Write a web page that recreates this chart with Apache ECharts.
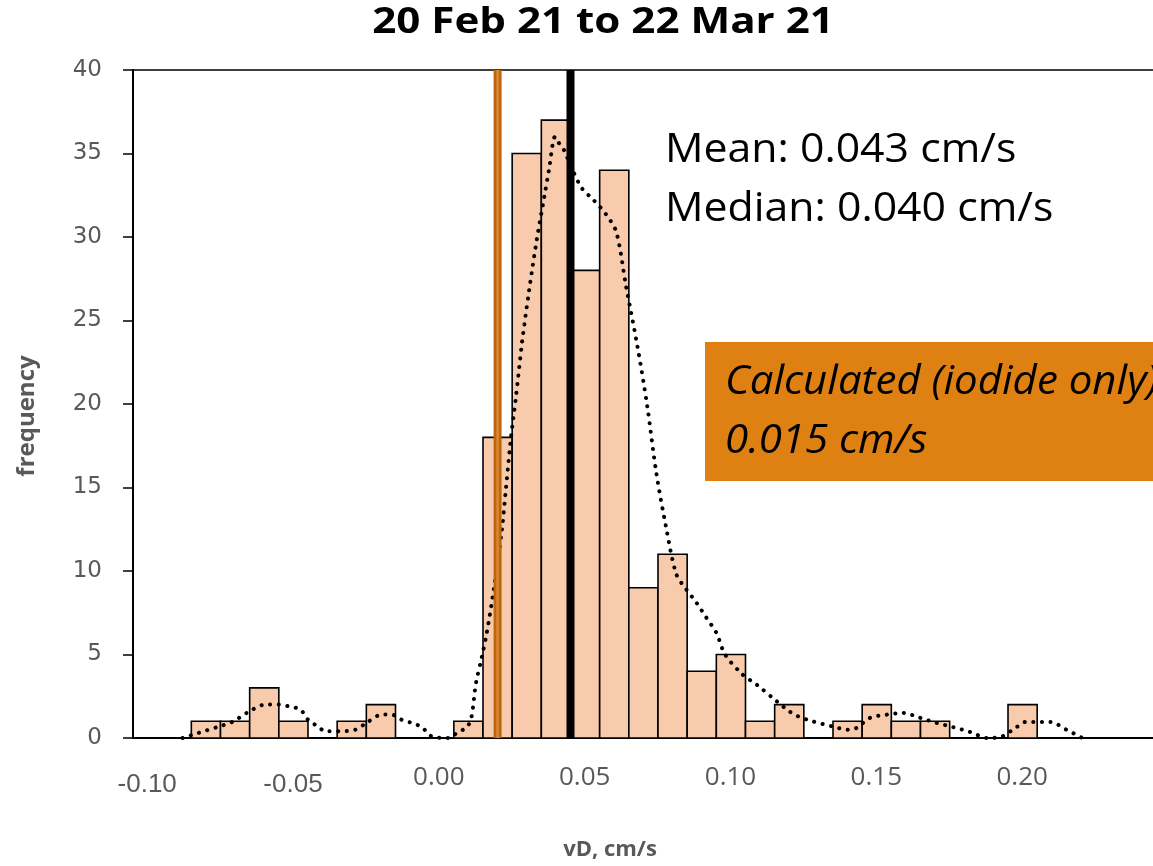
<!DOCTYPE html>
<html>
<head>
<meta charset="utf-8">
<script src="https://cdn.jsdelivr.net/npm/echarts@6/dist/echarts.min.js"></script>
<style>
  html, body { margin: 0; padding: 0; background: #fff; }
  #chart { width: 1153px; height: 866px; }
</style>
</head>
<body>
<div id="chart"></div>
<script>
// Histogram of deposition velocity: left edge of each 0.01 cm/s bin and its count
const binStarts = [-0.09, -0.08, -0.07, -0.06, -0.05, -0.04, -0.03, -0.02, -0.01,
                   0.00, 0.01, 0.02, 0.03, 0.04, 0.05, 0.06, 0.07, 0.08, 0.09,
                   0.10, 0.11, 0.12, 0.13, 0.14, 0.15, 0.16, 0.17, 0.18, 0.19];
const binCounts = [1, 1, 3, 1, 0, 1, 2, 0, 0,
                   1, 18, 35, 37, 28, 34, 9, 11, 4, 5,
                   1, 2, 0, 1, 2, 1, 1, 0, 0, 2];
const binWidth = 0.01;

// Smoothed frequency curve (dotted)
const curveX = [-0.093, -0.0876, -0.081, -0.076, -0.071, -0.0646, -0.060, -0.0567, -0.0526, -0.050,
                -0.0464, -0.044, -0.0395, -0.0337, -0.030, -0.0247, -0.0213, -0.018, -0.0144, -0.011,
                -0.0076, -0.0017, 0.001, 0.0045, 0.006, 0.0076, 0.0096, 0.0113, 0.0137, 0.0165,
                0.0179, 0.0196, 0.0213, 0.0234, 0.0258, 0.0285, 0.031, 0.0326, 0.0347, 0.0357,
                0.0375, 0.041, 0.044, 0.048, 0.052, 0.0557, 0.059, 0.0629, 0.0663, 0.0694,
                0.0728, 0.0763, 0.0797, 0.0832, 0.0866, 0.090, 0.093, 0.099, 0.1038, 0.1107,
                0.115, 0.118, 0.123, 0.1296, 0.135, 0.138, 0.1426, 0.1485, 0.154, 0.160,
                0.1656, 0.171, 0.177, 0.183, 0.188, 0.193, 0.196, 0.2017, 0.2045, 0.210, 0.2155];
const curveY = [0, 0.3, 0.66, 0.96, 1.5, 2.0, 2.0, 1.9, 1.7, 1.1,
                0.66, 0.4, 0.4, 0.5, 0.9, 1.4, 1.4, 1.1, 0.9, 0.66,
                0.1, 0, 0.3, 0.66, 1.2, 3.3, 4.85, 6.3, 8.9, 12.5,
                15.0, 18.0, 20.4, 23.7, 26.8, 29.9, 32.4, 34.0, 36.0, 35.7,
                35.3, 33.9, 32.9, 32.2, 31.4, 30.3, 27.1, 23.5, 19.9, 15.9,
                12.6, 9.8, 8.9, 8.1, 7.2, 6.3, 5.0, 3.8, 3.2, 2.2,
                1.6, 1.3, 1.0, 0.7, 0.5, 0.6, 1.2, 1.4, 1.5, 1.2,
                0.9, 0.66, 0.36, 0, 0.1, 0.66, 0.96, 0.96, 0.96, 0.5, 0];

// Axis tick labels
const xTickPositive = [0.00, 0.05, 0.10, 0.15, 0.20];
const xTickNegative = [-0.10, -0.05];

// Reference values drawn as vertical lines
const calculatedValue = 0.015;
const medianValue = 0.040;
const meanValue = 0.043;
const refValues = [calculatedValue, medianValue];
const refColors = ['#BF650C', '#000000'];

const yMax = 40;
const labelGrey = '#595959';

const chart = echarts.init(document.getElementById('chart'), null, { renderer: 'canvas' });

const xBase = {
  type: 'value',
  min: -0.11,
  max: 0.25,
  splitLine: { show: false },
  axisTick: { show: false }
};

chart.setOption({
  animation: false,
  backgroundColor: '#ffffff',
  grid: {
    left: 133, top: 70, width: 1050, height: 668,
    show: true, borderColor: '#000', borderWidth: 1.5,
    containLabel: false, outerBoundsMode: 'none'
  },
  xAxis: [
    Object.assign({}, xBase, {
      position: 'bottom',
      axisLine: { show: true, onZero: false, lineStyle: { color: '#000', width: 2 } },
      axisLabel: {
        customValues: xTickPositive,
        formatter: v => v.toFixed(2),
        margin: 27,
        padding: [0, 30, 0, 0],
        fontFamily: 'Open Sans',
        fontSize: 26,
        color: labelGrey
      },
      name: 'vD, cm/s',
      nameLocation: 'middle',
      nameGap: 101,
      nameTextStyle: {
        fontFamily: 'Open Sans', fontWeight: 'bold', fontSize: 22, color: labelGrey,
        padding: [0, 96, 0, 0]
      }
    }),
    Object.assign({}, xBase, {
      position: 'bottom',
      axisLine: { show: false },
      axisLabel: {
        customValues: xTickNegative,
        formatter: v => v.toFixed(2),
        margin: 34,
        padding: [0, 30, 0, 0],
        fontFamily: 'Liberation Sans',
        fontSize: 26,
        color: labelGrey
      }
    })
  ],
  yAxis: {
    type: 'value',
    min: 0,
    max: yMax,
    interval: 5,
    splitLine: { show: false },
    axisLine: { show: true, onZero: false, lineStyle: { color: '#000', width: 2 } },
    axisTick: { show: true, inside: false, length: 10, lineStyle: { color: '#000', width: 1.5 } },
    axisLabel: {
      margin: 31,
      fontFamily: 'DejaVu Sans',
      fontSize: 23,
      color: labelGrey
    },
    name: 'frequency',
    nameLocation: 'middle',
    nameRotate: 90,
    nameGap: 94,
    nameTextStyle: {
      fontFamily: 'Open Sans', fontWeight: 'bold', fontSize: 24, color: labelGrey,
      padding: [0, 24, 0, 0]
    }
  },
  series: [
    {
      name: 'bins',
      type: 'custom',
      xAxisIndex: 0,
      z: 1,
      data: binStarts.map((s, i) => [s, binCounts[i]]),
      renderItem: (params, api) => {
        const x0 = api.value(0);
        const count = api.value(1);
        if (!count) return null;
        const pTop = api.coord([x0, count]);
        const pBot = api.coord([x0 + binWidth, 0]);
        return {
          type: 'rect',
          shape: { x: pTop[0], y: pTop[1], width: pBot[0] - pTop[0], height: pBot[1] - pTop[1] },
          style: { fill: '#F8CBAD', stroke: '#000', lineWidth: 1.6 }
        };
      }
    },
    {
      name: 'smoothed',
      type: 'line',
      xAxisIndex: 0,
      z: 2,
      data: curveX.map((x, i) => [x, curveY[i]]),
      smooth: 0.3,
      showSymbol: false,
      symbol: 'none',
      lineStyle: { color: '#000', width: 4, type: [0.1, 8.5], cap: 'round' }
    },
    {
      name: 'reference',
      type: 'custom',
      xAxisIndex: 0,
      z: 3,
      data: refValues.map((v, i) => [v, i]),
      renderItem: (params, api) => {
        const v = api.value(0);
        const idx = api.value(1);
        const p0 = api.coord([v, 0]);
        const p1 = api.coord([v, yMax]);
        const children = [{
          type: 'line',
          shape: { x1: p0[0], y1: p0[1], x2: p1[0], y2: p1[1] },
          style: { stroke: refColors[idx], lineWidth: 8 }
        }];
        if (idx === 0) {
          children.push({
            type: 'line',
            shape: { x1: p0[0], y1: p0[1], x2: p1[0], y2: p1[1] },
            style: { stroke: '#D98A36', lineWidth: 2.5 }
          });
        }
        return { type: 'group', children: children };
      }
    }
  ],
  graphic: [
    {
      type: 'text', x: 603, y: 23, scaleX: 1.17, z: 10,
      style: {
        text: '20 Feb 21 to 22 Mar 21',
        fontFamily: 'Open Sans', fontWeight: 'bold', fontSize: 36, fill: '#000',
        align: 'center', verticalAlign: 'middle', textAlign: 'center', textVerticalAlign: 'middle'
      }
    },
    {
      type: 'text', x: 665, y: 151, scaleX: 1.07, z: 10,
      style: {
        text: 'Mean: ' + meanValue.toFixed(3) + ' cm/s',
        fontFamily: 'Open Sans', fontSize: 40, fill: '#000',
        align: 'left', verticalAlign: 'middle', textAlign: 'left', textVerticalAlign: 'middle'
      }
    },
    {
      type: 'text', x: 665, y: 210, scaleX: 1.07, z: 10,
      style: {
        text: 'Median: ' + medianValue.toFixed(3) + ' cm/s',
        fontFamily: 'Open Sans', fontSize: 40, fill: '#000',
        align: 'left', verticalAlign: 'middle', textAlign: 'left', textVerticalAlign: 'middle'
      }
    },
    {
      type: 'rect', z: 10,
      shape: { x: 705, y: 342, width: 470, height: 139 },
      style: { fill: '#DF8012' }
    },
    {
      type: 'text', x: 725, y: 383, scaleX: 1.05, z: 11,
      style: {
        text: 'Calculated (iodide only)',
        fontFamily: 'Open Sans', fontStyle: 'italic', fontSize: 40, fill: '#000',
        align: 'left', verticalAlign: 'middle', textAlign: 'left', textVerticalAlign: 'middle'
      }
    },
    {
      type: 'text', x: 725, y: 442, scaleX: 1.05, z: 11,
      style: {
        text: calculatedValue.toFixed(3) + ' cm/s',
        fontFamily: 'Open Sans', fontStyle: 'italic', fontSize: 40, fill: '#000',
        align: 'left', verticalAlign: 'middle', textAlign: 'left', textVerticalAlign: 'middle'
      }
    }
  ]
});
</script>
</body>
</html>
